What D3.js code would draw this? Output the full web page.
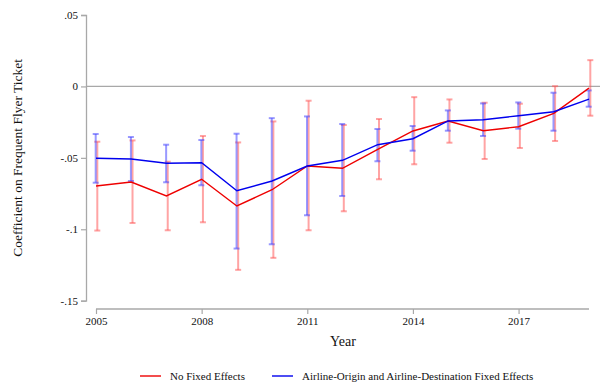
<!DOCTYPE html>
<html>
<head>
<meta charset="utf-8">
<script src="https://cdn.jsdelivr.net/npm/d3@7"></script>
<style>
  html, body { margin: 0; padding: 0; background: #fff; }
  svg text { font-family: "Liberation Serif", "DejaVu Serif", serif; fill: #111; }
</style>
</head>
<body>
<svg id="chart" width="608" height="383"></svg>
<script>
// Event-study estimates by year
const years = [2005, 2006, 2007, 2008, 2009, 2010, 2011, 2012, 2013, 2014, 2015, 2016, 2017, 2018, 2019];

// No fixed effects: point estimate and 95% CI
const noFE     = [-0.0697, -0.0669, -0.0767, -0.0650, -0.0837, -0.0723, -0.0557, -0.0573, -0.0440, -0.0312, -0.0242, -0.0310, -0.0282, -0.0189, -0.0012];
const noFELo   = [-0.1009, -0.0956, -0.1007, -0.0951, -0.1284, -0.1200, -0.1007, -0.0874, -0.0650, -0.0545, -0.0394, -0.0508, -0.0431, -0.0382, -0.0205];
const noFEHi   = [-0.0387, -0.0378, -0.0527, -0.0347, -0.0392, -0.0245, -0.0100, -0.0270, -0.0228, -0.0075, -0.0091, -0.0114, -0.0121,  0.0002,  0.0184];

// Airline-origin and airline-destination fixed effects
const withFE   = [-0.0503, -0.0508, -0.0538, -0.0534, -0.0730, -0.0662, -0.0557, -0.0517, -0.0408, -0.0366, -0.0242, -0.0233, -0.0205, -0.0177, -0.0089];
const withFELo = [-0.0674, -0.0662, -0.0671, -0.0692, -0.1135, -0.1105, -0.0902, -0.0767, -0.0524, -0.0450, -0.0310, -0.0347, -0.0296, -0.0310, -0.0142];
const withFEHi = [-0.0333, -0.0354, -0.0408, -0.0375, -0.0331, -0.0222, -0.0210, -0.0263, -0.0298, -0.0277, -0.0168, -0.0119, -0.0112, -0.0044, -0.0028];

const xTicks = [2005, 2008, 2011, 2014, 2017];
const yTicks = [0.05, 0, -0.05, -0.1, -0.15];
const yTickLabels = [".05", "0", "-.05", "-.1", "-.15"];

const seriesNames = ["No Fixed Effects", "Airline-Origin and Airline-Destination Fixed Effects"];

const svg = d3.select("#chart");
const axisColor = "#a8a8a8";

const x = d3.scaleLinear().domain([2005, 2019]).range([96, 589]);
const y = d3.scaleLinear().domain([-0.15, 0.05]).range([300.7, 15]);

// Y axis
const yAxis = svg.append("g").attr("transform", "translate(86,0)")
  .call(d3.axisLeft(y).tickValues(yTicks).tickSize(5).tickPadding(3)
    .tickFormat((d, i) => yTickLabels[i]));
yAxis.select(".domain").attr("stroke", axisColor).attr("stroke-width", 1.3);
yAxis.selectAll(".tick line").attr("stroke", axisColor).attr("stroke-width", 1.2);
yAxis.selectAll(".tick text").attr("font-size", 11).attr("font-family", "Liberation Serif");

// X axis
const xAxis = svg.append("g").attr("transform", "translate(0,309)")
  .call(d3.axisBottom(x).tickValues(xTicks).tickSize(5).tickPadding(3).tickSizeOuter(0)
    .tickFormat(d3.format("d")));
xAxis.select(".domain").attr("stroke", axisColor).attr("stroke-width", 1.3)
  .attr("d", `M${x(2005)},0H${x(2019)}`);
xAxis.selectAll(".tick line").attr("stroke", axisColor).attr("stroke-width", 1.2);
xAxis.selectAll(".tick text").attr("font-size", 11).attr("font-family", "Liberation Serif");

// Zero reference line
svg.append("line")
  .attr("x1", 86).attr("x2", 600)
  .attr("y1", y(0)).attr("y2", y(0))
  .attr("stroke", axisColor).attr("stroke-width", 1.3);

// Axis titles
svg.append("text")
  .attr("transform", `translate(22,${y(-0.05)}) rotate(-90)`)
  .attr("text-anchor", "middle")
  .attr("font-size", 13.5)
  .text("Coefficient on Frequent Flyer Ticket");

svg.append("text")
  .attr("x", 343).attr("y", 346)
  .attr("text-anchor", "middle")
  .attr("font-size", 14)
  .text("Year");

// Error bars
function errorBars(lo, hi, color, dx, width) {
  const g = svg.append("g").attr("stroke", color).attr("stroke-width", width).attr("fill", "none");
  years.forEach((yr, i) => {
    const cx = x(yr) + dx;
    g.append("line").attr("x1", cx).attr("x2", cx).attr("y1", y(lo[i])).attr("y2", y(hi[i]));
    g.append("line").attr("x1", cx - 3).attr("x2", cx + 3).attr("y1", y(lo[i])).attr("y2", y(lo[i]));
    g.append("line").attr("x1", cx - 3).attr("x2", cx + 3).attr("y1", y(hi[i])).attr("y2", y(hi[i]));
  });
}
errorBars(noFELo, noFEHi, "rgba(255,90,90,0.55)", 1.3, 2);
errorBars(withFELo, withFEHi, "rgba(70,70,255,0.55)", -0.3, 2);

// Estimate lines
const line = d3.line().x((d, i) => x(years[i])).y(d => y(d));
svg.append("path").datum(noFE).attr("d", line)
  .attr("fill", "none").attr("stroke", "#ee0000").attr("stroke-width", 1.4);
svg.append("path").datum(withFE).attr("d", line)
  .attr("fill", "none").attr("stroke", "#0000ee").attr("stroke-width", 1.4);

// Legend
const legend = svg.append("g");
const legendItems = [
  { name: seriesNames[0], color: "#ee0000", x0: 140 },
  { name: seriesNames[1], color: "#0000ee", x0: 272 }
];
legendItems.forEach(d => {
  legend.append("line")
    .attr("x1", d.x0).attr("x2", d.x0 + 21)
    .attr("y1", 376).attr("y2", 376)
    .attr("stroke", d.color).attr("stroke-width", 1.4);
  legend.append("text")
    .attr("x", d.x0 + 30).attr("y", 380)
    .attr("font-size", 11)
    .text(d.name);
});
</script>
</body>
</html>
